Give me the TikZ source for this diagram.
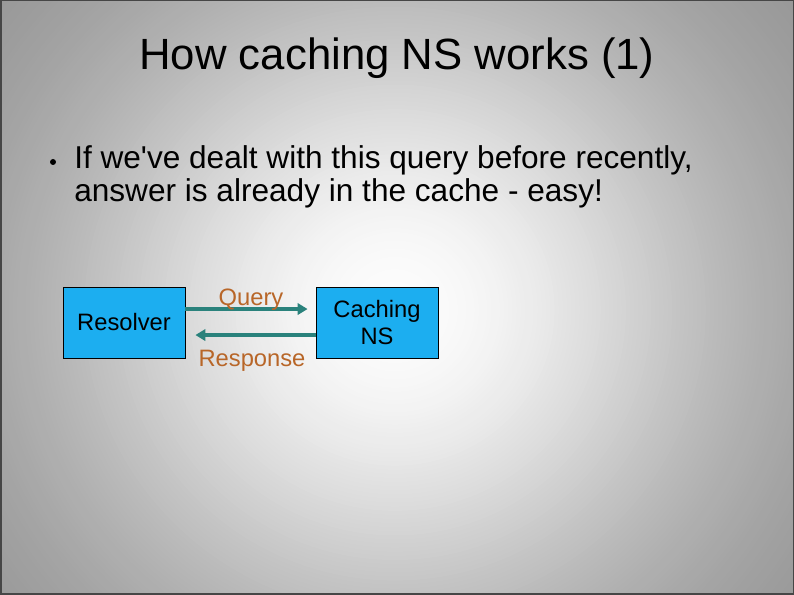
\documentclass[tikz,border=0pt]{standalone}
\usepackage{fontspec}
\setmainfont{Liberation Sans}
\usetikzlibrary{arrows.meta}

\definecolor{boxblue}{RGB}{28,174,240}
\definecolor{flowteal}{RGB}{42,130,124}
\definecolor{lblbrown}{RGB}{184,102,40}
\definecolor{framegray}{RGB}{70,70,70}

\begin{document}
\begin{tikzpicture}[>={Triangle[length=7.5pt,width=8.5pt]}, x=0.75pt, y=-0.75pt,
    box/.style={draw=black, line width=0.6pt, fill=boxblue, minimum width=91.5pt,
      minimum height=53.25pt, align=center, inner sep=0pt,
      font=\fontsize{17.8}{20.25}\selectfont},
    lbl/.style={text=lblbrown, inner sep=0pt, font=\fontsize{17.8}{20.25}\selectfont},
    flow/.style={->, draw=flowteal, line width=2.3pt}]
        \useasboundingbox (0,0) rectangle (794,595);

        % Nền
        \begin{scope}
            \clip (0,0) rectangle (794,595);
            \fill[black!42] (0,0) rectangle (794,595);
            \foreach \i [evaluate=\i as \p using {45-44*exp(-1.5*(\i/100)^2)}] in {125,124,...,1}
                \fill[black!\p] (395,310) ellipse ({4.2*\i} and {4.1*\i});
        \end{scope}
        \draw[framegray, line width=2.25pt] (0,0) rectangle (794,595);

        % Tiêu đề
        \node[anchor=base, inner sep=0pt, font=\fontsize{32.8}{39}\selectfont] (title) at (397,70) {How caching NS works (1)};

        % Gạch đầu dòng
        \fill (53,162) circle (3);
        \node[anchor=base west, inner sep=0pt, font=\fontsize{23.7}{24.75}\selectfont] (line1) at (74,169) {If we{\textquotesingle}ve dealt with this query before recently,};
        \node[anchor=base west, inner sep=0pt, font=\fontsize{23.7}{24.75}\selectfont] (line2) at (74,202) {answer is already in the cache - easy!};

        % Các hộp
        \node[box] (resolver) at (124,322.5) {Resolver};
        \node[box] (caching) at (377,322.5) {Caching\\NS};

        % Mũi tên và nhãn
        \draw[flow] ([yshift=10.1pt]resolver.east) -- ([yshift=10.1pt,xshift=-6pt]caching.west);
        \draw[flow] ([yshift=-9.4pt]caching.west) -- ([yshift=-9.4pt,xshift=7.5pt]resolver.east);
        \node[lbl, anchor=base] (query) at (251,306) {Query};
        \node[lbl, anchor=base] (response) at (252,367) {Response};
    \end{tikzpicture}
\end{document}
